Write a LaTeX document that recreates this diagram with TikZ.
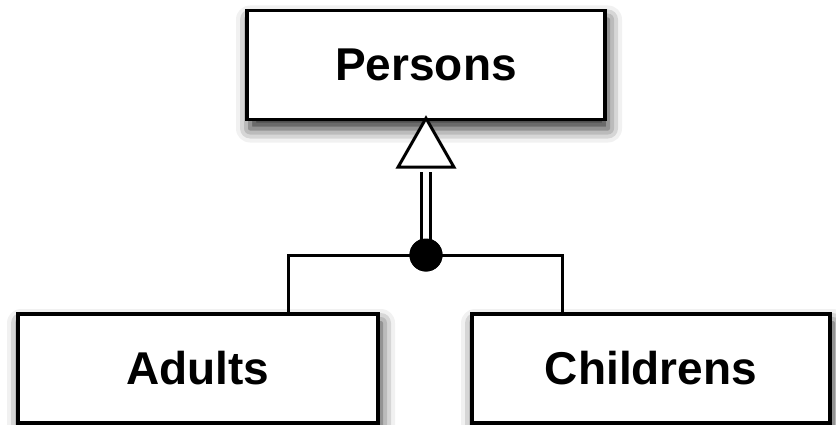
\documentclass[tikz,border=0pt]{standalone}
\usepackage{fontspec}
\setmainfont{Liberation Sans}
\usetikzlibrary{shadows.blur}
\begin{document}
\begin{tikzpicture}[x=1pt,y=-1pt,
  entity/.style={draw, line width=3.5pt, fill=white, inner sep=0pt,
    minimum width=358pt, minimum height=109pt,
    font=\bfseries\fontsize{46}{46}\selectfont,
    blur shadow={shadow xshift=3pt, shadow yshift=-9pt,
      shadow blur radius=14pt, shadow opacity=85}},
  link/.style={line width=3pt, line join=miter},
  rail/.style={line width=3pt, double=white, double distance=6pt},
  head/.style={line width=3pt, fill=white, line join=miter},
  joint/.style={circle, fill=black, minimum size=33pt, inner sep=0pt}]
\useasboundingbox (0,0) rectangle (836,425);

% classes
\node[entity] (persons) at (426,65) {Persons};
\node[entity, minimum width=360pt] (adults) at (198,368.5) {Adults};
\node[entity] (childrens) at (651,368.5) {Childrens};

% branching line joining the subclasses
\coordinate (jl) at (288,255);
\coordinate (jr) at (562,255);
\node[joint] (dot) at (426,255) {};
\draw[link] (adults.north -| jl) -- (jl) -- (jr) -- (childrens.north -| jr);

% generalisation arrow: double shaft and open triangle head
\coordinate (base) at (426,172);
\draw[rail] (dot.center) -- (base);
\node[joint] at (dot) {};
\draw[head] ([yshift=3pt]persons.south) -- ++(28,49) -- ++(-56,0) -- cycle;
\end{tikzpicture}
\end{document}
